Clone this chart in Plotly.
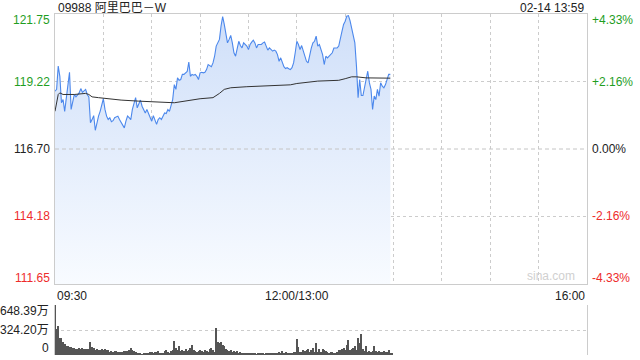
import plotly.graph_objects as go

# ---------------- data ----------------
stock_title = "09988 阿里巴巴－W"
stamp = "02-14 13:59"
prev_close = 116.70

price_ticks = [121.75, 119.22, 116.70, 114.18, 111.65]
pct_ticks = ["+4.33%", "+2.16%", "0.00%", "-2.16%", "-4.33%"]
time_labels = ["09:30", "12:00/13:00", "16:00"]
time_label_pos = [0, 150, 330]          # minutes since 09:30 (lunch break removed)
session_minutes = 330

vol_ticks = [648.39, 324.20, 0]
vol_tick_text = ["648.39万", "324.20万", "0"]

# minutes since 09:30 (trading minutes), last price
minutes = [0, 1, 2, 3, 4, 5, 6, 7, 9, 10, 11, 12, 13, 15, 16, 17, 19, 20, 21, 22,
           23, 24, 25, 26, 27, 28, 29, 30, 31, 32, 33, 34, 35, 36, 37, 38, 39, 40, 41, 43,
           44, 45, 46, 47, 48, 49, 50, 51, 52, 53, 54, 55, 56, 57, 58, 60, 61, 62, 63, 64,
           65, 66, 67, 68, 69, 70, 71, 72, 73, 74, 75, 76, 77, 78, 79, 80, 82, 83, 84, 85,
           86, 87, 88, 89, 90, 91, 92, 93, 94, 95, 96, 97, 98, 99, 100, 101, 102, 103, 104, 105,
           106, 107, 108, 109, 110, 111, 112, 113, 114, 115, 116, 117, 118, 119, 120, 121, 122, 123, 124, 125,
           126, 128, 129, 130, 131, 132, 133, 134, 135, 136, 137, 138, 139, 140, 141, 142, 143, 144, 145, 146,
           147, 148, 149, 150, 151, 152, 153, 154, 155, 156, 157, 158, 159, 160, 161, 162, 163, 164, 165, 166,
           167, 168, 169, 171, 172, 173, 174, 175, 176, 177, 178, 179, 180, 181, 182, 183, 184, 185, 186, 187,
           188, 189, 190, 191, 193, 194, 195, 196, 197, 198, 199, 200, 201, 202, 203, 204, 205, 206, 207, 208]
prices = [118.86, 118.93, 119.80, 119.42, 118.43, 118.55, 118.11, 118.55, 119.57, 118.18, 118.43, 118.74, 118.65, 118.80, 118.96, 118.82, 118.93, 118.74, 118.65, 117.68,
          117.80, 117.95, 117.40, 117.74, 117.93, 118.11, 118.30, 118.58, 118.18, 117.93, 117.80, 117.87, 117.72, 117.76, 117.87, 117.90, 117.93, 117.80, 117.68, 117.49,
          117.74, 117.93, 117.87, 117.80, 118.18, 118.37, 118.62, 118.24, 118.37, 118.53, 118.30, 118.18, 118.05, 118.18, 118.05, 117.74, 117.95, 117.80, 117.62, 117.80,
          117.87, 117.80, 117.90, 118.05, 118.03, 118.18, 118.11, 118.30, 118.55, 119.11, 118.93, 119.36, 119.27, 119.30, 119.49, 119.49, 119.60, 119.95, 119.42, 119.49,
          119.46, 119.49, 119.42, 119.30, 119.55, 119.57, 119.55, 119.57, 119.67, 119.86, 119.83, 119.78, 119.92, 120.17, 120.55, 120.67, 120.80, 121.30, 121.65, 121.36,
          120.98, 120.67, 120.80, 120.95, 120.67, 120.30, 120.17, 120.48, 120.73, 120.57, 120.48, 120.67, 120.61, 120.55, 120.42, 120.61, 120.70, 120.77, 120.67, 120.48,
          120.61, 120.61, 120.67, 120.70, 120.55, 120.40, 120.48, 120.40, 120.36, 120.40, 120.36, 120.23, 119.98, 120.11, 119.92, 119.78, 119.71, 119.74, 119.70, 119.67,
          119.74, 119.92, 120.30, 120.73, 120.61, 120.42, 120.57, 120.36, 120.17, 119.98, 119.92, 120.23, 120.48, 120.67, 120.73, 120.92, 120.55, 120.61, 120.42, 120.23,
          119.86, 120.17, 120.11, 120.23, 120.30, 120.48, 120.48, 120.48, 120.55, 120.90, 121.10, 121.36, 121.48, 121.67, 121.69, 121.50, 121.23, 121.05, 120.67, 119.80,
          118.62, 119.30, 118.70, 118.70, 119.30, 119.61, 119.18, 118.93, 118.18, 118.68, 118.55, 118.93, 118.68, 119.18, 119.05, 118.99, 119.11, 119.36, 119.49, 119.49]

avg_minutes = [0, 2, 3, 5, 12, 19, 21, 23, 27, 41, 52, 62, 74, 90, 98, 102, 105, 109, 119, 146,
               150, 163, 176, 180, 184, 187, 193, 208]
avg_prices = [118.11, 118.74, 118.80, 118.74, 118.74, 118.78, 118.74, 118.65, 118.62, 118.53, 118.49, 118.46, 118.43, 118.58, 118.62, 118.78, 118.93, 118.99, 119.03, 119.10,
              119.15, 119.24, 119.27, 119.33, 119.40, 119.40, 119.36, 119.35]

# volume per minute (万股), minutes 0..209
volumes = [648, 333, 376, 225, 216, 173, 143, 117, 120, 110, 100, 95, 86, 73, 80, 86, 80, 86, 75, 80,
           73, 80, 165, 100, 86, 70, 75, 65, 70, 75, 68, 72, 65, 60, 45, 50, 43, 55, 52, 40,
           35, 45, 43, 48, 52, 55, 65, 86, 65, 52, 40, 22, 30, 25, 13, 18, 22, 26, 30, 35,
           43, 30, 40, 35, 52, 30, 20, 30, 52, 65, 43, 30, 52, 70, 186, 86, 65, 121, 52, 65,
           56, 73, 56, 60, 86, 130, 65, 52, 43, 56, 65, 52, 43, 65, 52, 43, 73, 86, 65, 40,
           354, 173, 160, 173, 130, 117, 73, 65, 56, 65, 43, 52, 43, 52, 30, 35, 30, 26, 30, 22,
           26, 22, 18, 22, 26, 13, 18, 22, 18, 22, 13, 18, 22, 26, 18, 22, 30, 26, 22, 35,
           30, 52, 26, 40, 22, 26, 30, 26, 40, 40, 207, 108, 43, 43, 65, 52, 65, 73, 43, 60,
           86, 43, 160, 43, 73, 43, 73, 65, 52, 35, 30, 40, 35, 30, 30, 43, 65, 65, 73, 86,
           60, 130, 194, 65, 73, 86, 117, 65, 216, 151, 272, 73, 52, 117, 43, 50, 43, 48, 117, 56,
           43, 52, 45, 40, 50, 43, 35, 65, 30, 20]
vol_minutes = list(range(len(volumes)))

# ---------------- styling ----------------
GREEN = "#1f9e1f"
RED = "#ee2b2b"
BLACK = "#222222"
GRID = "#cccccc"
FONT = "Liberation Sans, Arial, Noto Sans CJK SC, sans-serif"

label_colors = [GREEN, GREEN, BLACK, RED, RED]
y_lo, y_hi = min(price_ticks), max(price_ticks)

fig = go.Figure()

fig.add_trace(go.Scatter(
    x=minutes, y=prices, mode="lines",
    line=dict(color="#4c88ec", width=1.1),
    fill="tozeroy",
    fillgradient=dict(type="vertical",
                      colorscale=[[0, "rgba(248,251,255,1)"], [1, "rgba(207,223,249,1)"]],
                      start=y_lo, stop=y_hi),
    hoverinfo="skip", showlegend=False, xaxis="x", yaxis="y"))

fig.add_trace(go.Scatter(
    x=avg_minutes, y=avg_prices, mode="lines",
    line=dict(color="#333333", width=1),
    hoverinfo="skip", showlegend=False, xaxis="x", yaxis="y"))

fig.add_trace(go.Bar(
    x=vol_minutes, y=volumes, width=0.6,
    marker=dict(color="#555555", line=dict(width=0)),
    hoverinfo="skip", showlegend=False, xaxis="x2", yaxis="y2"))

inner_ticks = [t for t in price_ticks if t not in (y_lo, y_hi, prev_close)]

fig.update_layout(
    width=640, height=360,
    margin=dict(l=55, r=53, t=0, b=0),
    paper_bgcolor="white", plot_bgcolor="white",
    font=dict(family=FONT, size=12, color=BLACK),
    bargap=0,
    xaxis=dict(domain=[0, 1], range=[0, session_minutes], dtick=30, tick0=0,
               showgrid=True, gridcolor=GRID, griddash="dot", gridwidth=1,
               showticklabels=False, ticks="", zeroline=False,
               showline=True, linecolor=GRID, linewidth=1, mirror=True),
    yaxis=dict(domain=[1 - 284 / 360, 1 - 14 / 360], range=[y_lo, y_hi],
               tickvals=inner_ticks, showticklabels=False, ticks="",
               showgrid=True, gridcolor=GRID, griddash="dot", gridwidth=1,
               zeroline=False, showline=True, linecolor=GRID, linewidth=1, mirror=True),
    xaxis2=dict(domain=[0, 1], range=[0, session_minutes], anchor="y2",
                showgrid=False, showticklabels=False, ticks="", zeroline=False,
                showline=False),
    yaxis2=dict(domain=[1 - 355 / 360, 1 - 305 / 360], range=[0, max(vol_ticks)],
                anchor="x2", tickvals=vol_ticks, showticklabels=False, ticks="",
                showgrid=True, gridcolor=GRID, griddash="dot", gridwidth=1,
                zeroline=False, showline=True, linecolor=GRID, linewidth=1, mirror=True),
)

# previous-close reference line
fig.add_shape(type="line", xref="x", yref="y", x0=0, x1=session_minutes,
              y0=prev_close, y1=prev_close,
              line=dict(color="#c4c4c4", width=1, dash="4px,3px"))

# price / percent labels
for i, (p, pct) in enumerate(zip(price_ticks, pct_ticks)):
    shift = -6 if p == y_hi else (6 if p == y_lo else 0)
    fig.add_annotation(xref="paper", yref="y", x=0, y=p, text=f"{p:.2f}",
                       xanchor="right", yanchor="middle", xshift=-3, yshift=shift,
                       showarrow=False, font=dict(color=label_colors[i], size=12))
    fig.add_annotation(xref="paper", yref="y", x=1, y=p, text=pct,
                       xanchor="left", yanchor="middle", xshift=3, yshift=shift,
                       showarrow=False, font=dict(color=label_colors[i], size=12))

# time labels
anchors = ["left", "center", "right"]
for lab, pos, anc in zip(time_labels, time_label_pos, anchors):
    fig.add_annotation(xref="x", yref="paper", x=pos, y=1 - 296 / 360, text=lab,
                       xanchor=anc, yanchor="middle", showarrow=False,
                       font=dict(size=12, color=BLACK))

# volume labels
for v, t in zip(vol_ticks, vol_tick_text):
    shift = -6 if v == max(vol_ticks) else (7 if v == 0 else 0)
    fig.add_annotation(xref="paper", yref="y2", x=0, y=v, text=t,
                       xanchor="right", yanchor="middle", xshift=-4, yshift=shift,
                       showarrow=False, font=dict(size=12, color=BLACK))

# header
fig.add_annotation(xref="paper", yref="paper", x=0, y=1 - 8 / 360, text=stock_title,
                   xanchor="left", yanchor="middle", xshift=1, showarrow=False,
                   font=dict(size=12, color=BLACK,
                             family="Liberation Sans, Noto Sans CJK SC, sans-serif"))
fig.add_annotation(xref="paper", yref="paper", x=1, y=1 - 8 / 360, text=stamp,
                   xanchor="right", yanchor="middle", xshift=-1, showarrow=False,
                   font=dict(size=12, color=BLACK))
# watermark
fig.add_annotation(xref="paper", yref="y", x=1, y=y_lo, text="sina.com",
                   xanchor="right", yanchor="bottom", xshift=-10, yshift=-1,
                   showarrow=False, font=dict(size=12, color="#d0d0d0"))

fig.write_html("out.html")
